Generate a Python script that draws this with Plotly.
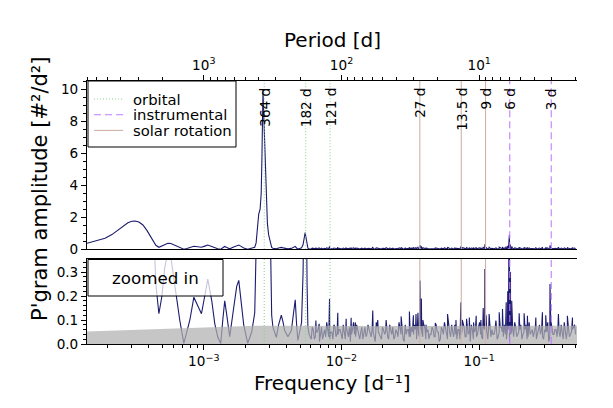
import numpy as np
import plotly.graph_objects as go

# ---------------- data ----------------
# low-frequency part of the periodogram: log10(frequency [1/d]) and amplitude
lowfreq_log10f = [
    -3.848, -3.783, -3.717, -3.667, -3.623, -3.587, -3.551, -3.522, -3.500, -3.471,
    -3.442, -3.413, -3.391, -3.370, -3.348, -3.326, -3.304, -3.283, -3.261, -3.239,
    -3.210, -3.188, -3.174, -3.145, -3.123, -3.101, -3.072, -3.043, -3.017, -2.993,
    -2.971, -2.942, -2.920, -2.899, -2.877, -2.862, -2.848, -2.833, -2.812, -2.783,
    -2.761, -2.746, -2.732, -2.710, -2.681, -2.652, -2.630, -2.620, -2.612, -2.601,
    -2.591, -2.583, -2.578, -2.570, -2.563, -2.553, -2.547, -2.538, -2.529, -2.518,
    -2.507, -2.498, -2.473, -2.457, -2.437, -2.424, -2.413, -2.389, -2.364, -2.348,
    -2.336, -2.326, -2.317, -2.304, -2.290, -2.279, -2.272, -2.264, -2.257, -2.250,
    -2.244,
]
lowfreq_amp = [
    0.38, 0.52, 0.69, 0.92, 1.2, 1.45, 1.66, 1.75, 1.77, 1.70,
    1.52, 1.18, 0.85, 0.5, 0.25, 0.126, 0.2, 0.32, 0.38, 0.36,
    0.237, 0.14, 0.098, 0.003, 0.05, 0.1, 0.195, 0.16, 0.126, 0.2,
    0.27, 0.18, 0.084, 0.03, 0.002, 0.1, 0.18, 0.12, 0.03, 0.15,
    0.24, 0.265, 0.2, 0.08, 0.003, 0.05, 0.13, 0.4, 1.0, 2.2,
    2.5, 3.5, 5.6, 9.95, 8.0, 5.6, 3.0, 1.6, 0.9, 0.4,
    0.12, 0.07, 0.028, 0.08, 0.12, 0.09, 0.056, 0.03, 0.056, 0.13,
    0.184, 0.08, 0.015, 0.05, 0.09, 0.3, 0.75, 1.05, 0.7, 0.25,
    0.07,
]

# high-frequency noise floor (two interleaved read-outs)
noise_log10f = [
    -2.235, -2.220, -2.205, -2.190, -2.175, -2.160, -2.145, -2.130, -2.115, -2.100,
    -2.085, -2.070, -2.055, -2.040, -2.025, -2.010, -1.995, -1.980, -1.965, -1.950,
    -1.935, -1.920, -1.905, -1.890, -1.875, -1.860, -1.845, -1.830, -1.815, -1.800,
    -1.785, -1.770, -1.755, -1.740, -1.725, -1.710, -1.695, -1.680, -1.665, -1.650,
    -1.635, -1.620, -1.605, -1.590, -1.575, -1.560, -1.545, -1.530, -1.515, -1.500,
    -1.485, -1.470, -1.455, -1.440, -1.425, -1.410, -1.395, -1.380, -1.365, -1.350,
    -1.335, -1.320, -1.305, -1.290, -1.275, -1.260, -1.245, -1.230, -1.215, -1.200,
    -1.185, -1.170, -1.155, -1.140, -1.125, -1.110, -1.095, -1.080, -1.065, -1.050,
    -1.035, -1.020, -1.005, -0.990, -0.975, -0.960, -0.945, -0.930, -0.915, -0.900,
    -0.885, -0.870, -0.855, -0.840, -0.825, -0.810, -0.795, -0.780, -0.765, -0.750,
    -0.735, -0.720, -0.705, -0.690, -0.675, -0.660, -0.645, -0.630, -0.615, -0.600,
    -0.585, -0.570, -0.555, -0.540, -0.525, -0.510, -0.495, -0.480, -0.465, -0.450,
    -0.435, -0.420, -0.405, -0.390, -0.375, -0.360, -0.345, -0.330, -0.315, -0.300,
]
noise_amp = [
    0.04, 0.02, 0.06, 0.03, 0.05, 0.01, 0.07, 0.04, 0.03, 0.06,
    0.02, 0.05, 0.08, 0.03, 0.04, 0.06, 0.02, 0.05, 0.07, 0.03,
    0.01, 0.06, 0.04, 0.08, 0.03, 0.05, 0.02, 0.07, 0.04, 0.06,
    0.03, 0.05, 0.01, 0.07, 0.04, 0.02, 0.06, 0.05, 0.03, 0.08,
    0.04, 0.02, 0.06, 0.03, 0.07, 0.05, 0.01, 0.04, 0.06, 0.03,
    0.05, 0.08, 0.02, 0.04, 0.06, 0.03, 0.07, 0.05, 0.02, 0.04,
    0.06, 0.03, 0.05, 0.01, 0.07, 0.04, 0.06, 0.02, 0.05, 0.08,
    0.03, 0.04, 0.06, 0.02, 0.05, 0.07, 0.03, 0.04, 0.01, 0.06,
    0.05, 0.03, 0.07, 0.04, 0.02, 0.06, 0.05, 0.08, 0.03, 0.04,
    0.06, 0.02, 0.05, 0.07, 0.03, 0.04, 0.06, 0.01, 0.05, 0.03,
    0.07, 0.04, 0.06, 0.02, 0.05, 0.08, 0.03, 0.04, 0.06, 0.05,
    0.02, 0.07, 0.04, 0.03, 0.06, 0.05, 0.01, 0.07, 0.04, 0.06,
    0.03, 0.05, 0.08, 0.02, 0.04, 0.06, 0.03, 0.05, 0.07, 0.04,
]
noise2_log10f = [
    -2.2275, -2.2125, -2.1975, -2.1825, -2.1675, -2.1525, -2.1375, -2.1225, -2.1075, -2.0925,
    -2.0775, -2.0625, -2.0475, -2.0325, -2.0175, -2.0025, -1.9875, -1.9725, -1.9575, -1.9425,
    -1.9275, -1.9125, -1.8975, -1.8825, -1.8675, -1.8525, -1.8375, -1.8225, -1.8075, -1.7925,
    -1.7775, -1.7625, -1.7475, -1.7325, -1.7175, -1.7025, -1.6875, -1.6725, -1.6575, -1.6425,
    -1.6275, -1.6125, -1.5975, -1.5825, -1.5675, -1.5525, -1.5375, -1.5225, -1.5075, -1.4925,
    -1.4775, -1.4625, -1.4475, -1.4325, -1.4175, -1.4025, -1.3875, -1.3725, -1.3575, -1.3425,
    -1.3275, -1.3125, -1.2975, -1.2825, -1.2675, -1.2525, -1.2375, -1.2225, -1.2075, -1.1925,
    -1.1775, -1.1625, -1.1475, -1.1325, -1.1175, -1.1025, -1.0875, -1.0725, -1.0575, -1.0425,
    -1.0275, -1.0125, -0.9975, -0.9825, -0.9675, -0.9525, -0.9375, -0.9225, -0.9075, -0.8925,
    -0.8775, -0.8625, -0.8475, -0.8325, -0.8175, -0.8025, -0.7875, -0.7725, -0.7575, -0.7425,
    -0.7275, -0.7125, -0.6975, -0.6825, -0.6675, -0.6525, -0.6375, -0.6225, -0.6075, -0.5925,
    -0.5775, -0.5625, -0.5475, -0.5325, -0.5175, -0.5025, -0.4875, -0.4725, -0.4575, -0.4425,
    -0.4275, -0.4125, -0.3975, -0.3825, -0.3675, -0.3525, -0.3375, -0.3225, -0.3075,
]
noise2_amp = [
    0.03, 0.07, 0.02, 0.05, 0.08, 0.04, 0.02, 0.06, 0.09, 0.03,
    0.05, 0.02, 0.07, 0.04, 0.06, 0.03, 0.08, 0.02, 0.05, 0.07,
    0.04, 0.09, 0.03, 0.06, 0.02, 0.07, 0.05, 0.03, 0.08, 0.04,
    0.06, 0.02, 0.09, 0.05, 0.03, 0.07, 0.04, 0.08, 0.02, 0.06,
    0.07, 0.03, 0.05, 0.09, 0.04, 0.02, 0.08, 0.06, 0.03, 0.07,
    0.04, 0.06, 0.09, 0.03, 0.05, 0.08, 0.02, 0.06, 0.04, 0.07,
    0.03, 0.08, 0.05, 0.02, 0.06, 0.09, 0.04, 0.07, 0.03, 0.05,
    0.08, 0.02, 0.06, 0.04, 0.09, 0.03, 0.07, 0.05, 0.08, 0.02,
    0.06, 0.04, 0.09, 0.03, 0.07, 0.05, 0.02, 0.08, 0.06, 0.04,
    0.09, 0.03, 0.07, 0.05, 0.08, 0.02, 0.06, 0.04, 0.07, 0.09,
    0.03, 0.05, 0.08, 0.04, 0.06, 0.02, 0.09, 0.05, 0.03, 0.07,
    0.04, 0.08, 0.06, 0.02, 0.05, 0.09, 0.03, 0.07, 0.04, 0.06,
    0.08, 0.03, 0.05, 0.09, 0.02, 0.07, 0.04, 0.06, 0.08,
]

# individual peaks rising above the noise floor
spike_log10f = [
    -2.186, -2.162, -2.087, -2.027, -1.966, -1.930, -1.899, -1.773, -1.737, -1.676,
    -1.567, -1.507, -1.478, -1.459, -1.445, -1.430, -1.420, -1.409, -1.386, -1.319,
    -1.230, -1.169, -1.133, -1.123, -1.092, -1.072, -1.041, -1.022, -0.988, -0.971,
    -0.959, -0.950, -0.928, -0.879, -0.855, -0.831, -0.804, -0.793, -0.781, -0.773,
    -0.764, -0.710, -0.674, -0.650, -0.589, -0.541, -0.517, -0.486, -0.478, -0.425,
    -0.360, -0.323,
]
spike_amp = [
    0.098, 0.084, 0.188, 0.13, 0.105, 0.109, 0.09, 0.14, 0.1, 0.1,
    0.115, 0.135, 0.12, 0.125, 0.13, 0.265, 0.19, 0.1, 0.08, 0.087,
    0.125, 0.1, 0.174, 0.1, 0.105, 0.11, 0.09, 0.118, 0.1, 0.15,
    0.313, 0.12, 0.125, 0.098, 0.132, 0.146, 0.174, 0.22, 0.9, 0.3,
    0.18, 0.128, 0.128, 0.118, 0.11, 0.132, 0.12, 0.25, 0.09, 0.125,
    0.118, 0.11,
]

# significance / noise level (grey band in the zoomed panel)
noise_level_log10f = [-3.848, -2.620, -1.500, -0.290]
noise_level_amp = [0.052, 0.076, 0.075, 0.076]

# marked periods [d]
orbital_periods = [364, 182, 121]
orbital_labels = ["364 d", "182 d", "121 d"]
instrumental_periods = [6, 3]
instrumental_labels = ["6 d", "3 d"]
solar_periods = [27, 13.5, 9]
solar_labels = ["27 d", "13.5 d", "9 d"]
legend_names = ["orbital", "instrumental", "solar rotation"]

freq_tickvals = [1e-3, 1e-2, 1e-1]
freq_ticktext = ["10<sup>\u22123</sup>", "10<sup>\u22122</sup>", "10<sup>\u22121</sup>"]
period_tickvals = [1e3, 1e2, 1e1]
period_ticktext = ["10<sup>3</sup>", "10<sup>2</sup>", "10<sup>1</sup>"]

# ---------------- figure ----------------
FONT = "DejaVu Sans"
NAVY = "#1b1b6f"
XRANGE = [-3.848, -0.29]
TOP_YMAX = 10.5
BOT_YMAX = 0.354
W, H = 613, 408
ML, MR, MT, MB = 87, 36, 81, 64


def px_x(px):
    return (px - ML) / (W - ML - MR)


def px_y(py):
    return (H - MB - py) / (H - MT - MB)


pairs = sorted(zip(lowfreq_log10f + noise_log10f + noise2_log10f + spike_log10f,
                   lowfreq_amp + noise_amp + noise2_amp + spike_amp))
freq = [10 ** p[0] for p in pairs]
amp = [p[1] for p in pairs]
level_freq = [10 ** v for v in noise_level_log10f]

fig = go.Figure()

# periodogram, top (full) and bottom (zoomed) panel
fig.add_trace(go.Scatter(x=freq, y=amp, mode="lines", line=dict(color=NAVY, width=1.1),
                         xaxis="x2", yaxis="y2", showlegend=False, hoverinfo="skip"))
fig.add_trace(go.Scatter(x=freq, y=amp, mode="lines", line=dict(color=NAVY, width=1.1),
                         xaxis="x", yaxis="y", showlegend=False, hoverinfo="skip"))
# invisible copy so the top (period) axis gets drawn
fig.add_trace(go.Scatter(x=freq, y=amp, mode="lines", line=dict(width=0), opacity=0,
                         xaxis="x3", yaxis="y2", showlegend=False, hoverinfo="skip"))
# grey noise band (semi-transparent, on top of the curve)
fig.add_trace(go.Scatter(x=level_freq, y=noise_level_amp, mode="lines", fill="tozeroy",
                         line=dict(width=0, color="rgba(0,0,0,0)"),
                         fillcolor="rgba(176,176,176,0.72)",
                         xaxis="x", yaxis="y", showlegend=False, hoverinfo="skip"))

groups = [
    ("orbital", orbital_periods, orbital_labels, "#93cf93", "1px,2px"),
    ("instrumental", instrumental_periods, instrumental_labels, "#c27cff", "7px,4px"),
    ("solar rotation", solar_periods, solar_labels, "#d2b2a8", "solid"),
]
annotations = []
shapes = []
for name, periods, labels, color, dash in groups:
    for p, lab in zip(periods, labels):
        f = 1.0 / p
        fig.add_trace(go.Scatter(x=[f, f], y=[0, TOP_YMAX], mode="lines",
                                 line=dict(color=color, width=1.1, dash=dash),
                                 xaxis="x2", yaxis="y2", showlegend=False,
                                 hoverinfo="skip"))
        fig.add_trace(go.Scatter(x=[f, f], y=[0, BOT_YMAX], mode="lines",
                                 line=dict(color=color, width=1.1, dash=dash),
                                 xaxis="x", yaxis="y", showlegend=False,
                                 hoverinfo="skip"))
        annotations.append(dict(x=np.log10(f), y=1, xref="x2", yref="y2 domain",
                                text=lab, showarrow=False, textangle=-90,
                                xanchor="center", yanchor="top", yshift=-5,
                                font=dict(family=FONT, size=13.6, color="black")))

# legend box (matplotlib-style, drawn as layout decoration)
shapes.append(dict(type="rect", xref="paper", yref="paper", x0=px_x(88), x1=px_x(236),
                   y0=px_y(147), y1=px_y(81), fillcolor="white",
                   line=dict(color="black", width=1), layer="above"))
for k, (name, _, _, color, dash) in enumerate(groups):
    yy = px_y(99 + 15.7 * k)
    shapes.append(dict(type="line", xref="paper", yref="paper", x0=px_x(94), x1=px_x(123),
                       y0=yy, y1=yy, line=dict(color=color, width=1.1, dash=dash),
                       layer="above"))
    annotations.append(dict(x=px_x(131), y=yy, xref="paper", yref="paper",
                            text=legend_names[k], showarrow=False, xanchor="left",
                            yanchor="middle",
                            font=dict(family=FONT, size=14.8, color="black")))

tickfont = dict(family=FONT, size=13.6, color="black")
common = dict(showline=True, linecolor="black", linewidth=1, ticks="outside",
              tickcolor="black", ticklen=5, tickwidth=1, showgrid=False,
              zeroline=False, tickfont=tickfont)

freq_minor = [m * 10.0 ** k for k in range(-4, 0) for m in range(2, 10)
              if XRANGE[0] <= np.log10(m * 10.0 ** k) <= XRANGE[1]]
period_minor = [1.0 / (m * 10.0 ** k) for k in range(0, 4) for m in range(2, 10)
                if XRANGE[0] <= np.log10(1.0 / (m * 10.0 ** k)) <= XRANGE[1]]

fig.update_layout(
    width=W, height=H,
    margin=dict(l=ML, r=MR, t=MT, b=MB, pad=0),
    paper_bgcolor="white", plot_bgcolor="white",
    font=dict(family=FONT, color="black"),
    showlegend=False,
    xaxis=dict(type="log", range=XRANGE, anchor="y", domain=[0, 1],
               tickvals=freq_tickvals, ticktext=freq_ticktext, mirror=True,
               minor=dict(tickvals=freq_minor, ticks="outside", ticklen=3,
                          tickcolor="black", tickwidth=1),
               **common),
    xaxis2=dict(type="log", range=XRANGE, anchor="y2", domain=[0, 1],
                showticklabels=False, showline=True, linecolor="black",
                linewidth=1, ticks="", showgrid=False, zeroline=False),
    xaxis3=dict(type="log", range=XRANGE, anchor="y2", overlaying="x2", side="top",
                tickvals=[1.0 / v for v in period_tickvals], ticktext=period_ticktext,
                minor=dict(tickvals=period_minor, ticks="outside", ticklen=3,
                           tickcolor="black", tickwidth=1),
                **common),
    yaxis=dict(range=[0, BOT_YMAX], domain=[0, 0.323], anchor="x",
               tickvals=[0, 0.1, 0.2, 0.3], ticktext=["0.0", "0.1", "0.2", "0.3"],
               minor=dict(tick0=0, dtick=0.02, ticks="outside", ticklen=3,
                          tickcolor="black", tickwidth=1),
               **common),
    yaxis2=dict(range=[0, TOP_YMAX], domain=[0.36, 1], anchor="x2",
                tick0=0, dtick=2,
                minor=dict(tick0=0, dtick=0.5, ticks="outside", ticklen=3,
                           tickcolor="black", tickwidth=1),
                **common),
)

# "zoomed in" label box
shapes.append(dict(type="rect", xref="paper", yref="paper", x0=px_x(88), x1=px_x(223),
                   y0=px_y(296), y1=px_y(259.5), fillcolor="rgba(255,255,255,0.75)",
                   line=dict(color="black", width=1), layer="above"))
annotations.append(dict(x=px_x(155.5), y=px_y(278), xref="paper", yref="paper",
                        text="zoomed in", showarrow=False, xanchor="center",
                        yanchor="middle",
                        font=dict(family=FONT, size=16.7, color="black")))
# axis titles
annotations.append(dict(x=0.5, y=px_y(40), xref="paper", yref="paper", text="Period [d]",
                        showarrow=False, xanchor="center", yanchor="middle",
                        font=dict(family=FONT, size=20, color="black")))
annotations.append(dict(x=0.5, y=px_y(383), xref="paper", yref="paper",
                        text="Frequency [d\u207b\u00b9]",
                        showarrow=False, xanchor="center", yanchor="middle",
                        font=dict(family=FONT, size=20, color="black")))
annotations.append(dict(x=px_x(40), y=px_y(189), xref="paper", yref="paper",
                        text="P'gram amplitude [#\u00b2/d\u00b2]", textangle=-90,
                        showarrow=False, xanchor="center", yanchor="middle",
                        font=dict(family=FONT, size=21, color="black")))
fig.update_layout(annotations=annotations, shapes=shapes)

fig.write_html("out.html")
